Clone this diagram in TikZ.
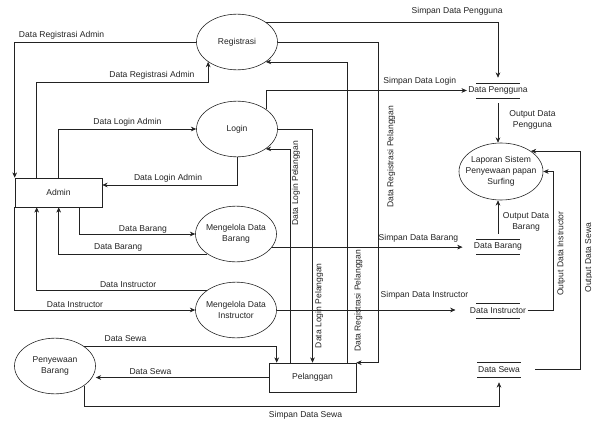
\documentclass[tikz,border=0pt]{standalone}
\usepackage{fontspec}
\setmainfont{Liberation Sans}
\usetikzlibrary{arrows.meta,shapes.geometric}
\definecolor{ink}{HTML}{222222}

\begin{document}
\begin{tikzpicture}[x=0.03cm,y=-0.03cm,ink,line width=0.5pt,
  font=\fontsize{7.3}{9.2}\selectfont,
  proc/.style={ellipse,draw=ink,minimum width=2.43cm,minimum height=1.67cm,inner xsep=-0.3cm,align=center},
  ent/.style={rectangle,draw=ink,minimum width=2.61cm,minimum height=0.87cm},
  store/.style={minimum height=0.75cm,inner xsep=1pt},
  lbl/.style={inner sep=2pt},
  vlbl/.style={rotate=90,anchor=north,inner sep=2pt},
  arr/.style={-{Stealth[length=1.6mm,width=1.4mm]},draw=ink}]
\useasboundingbox (0,0) rectangle (592,423);
\node[proc] (reg) at (237,42) {Registrasi};
\node[proc] (login) at (237,129) {Login};
\node[proc] (mdb) at (236,234) {Mengelola Data\\Barang};
\node[proc] (mdi) at (236,310) {Mengelola Data\\Instructor};
\node[proc] (sewa) at (55,366) {Penyewaan\\Barang};
\node[proc,minimum width=2.52cm,minimum height=1.71cm] (lap) at (501,171.5) {Laporan Sistem\\Penyewaan papan\\Surfing};
\node[ent] (admin) at (58.5,192.5) {Admin};
\node[ent] (plg) at (312.5,377.5) {Pelanggan};
\node[store] (dp) at (498,90.5) {Data Pengguna};
\node[store] (db) at (498,246.5) {Data Barang};
\node[store] (di) at (498,310.5) {Data Instructor};
\node[store] (ds) at (499,369.5) {Data Sewa};
\foreach \s in {dp,db,di,ds}
  \draw ([shift={(-0.66cm,0.225cm)}]\s.center) -- ++(1.32cm,0)
        ([shift={(-0.66cm,-0.225cm)}]\s.center) -- ++(1.32cm,0);
\draw[arr] (reg.west) -| node[lbl,above,pos=0.371]{Data Registrasi Admin} (admin.north west);
\draw[arr] ([xshift=0.66cm]admin.north west) |- node[lbl,above,pos=0.836]{Data Registrasi Admin} ([yshift=-0.6cm]reg.south west) -- (reg.south west);
\draw[arr] ([xshift=1.32cm]admin.north west) |- node[lbl,above,pos=0.75]{Data Login Admin} (login.west);
\draw[arr] (login.south) |- node[lbl,above,pos=0.756]{Data Login Admin} ([yshift=0.225cm]admin.east);
\draw[arr] ([xshift=1.95cm]admin.south west) |- node[lbl,above=-1.5pt,pos=0.774]{Data Barang} (mdb.west);
\draw[arr] (mdb.south west) -| node[lbl,above,pos=0.30]{Data Barang} ([xshift=1.32cm]admin.south west);
\draw[arr] (mdi.north west) -| node[lbl,above,pos=0.232]{Data Instructor} ([xshift=0.66cm]admin.south west);
\draw[arr] (admin.south west) |- node[lbl,above,pos=0.667]{Data Instructor} (mdi.west);
\draw[arr] (sewa.north east) -| node[lbl,above=2pt,pos=0.108]{Data Sewa} ([xshift=0.24cm]plg.north west);
\draw[arr] (plg.west) -- node[lbl,above,pos=0.684]{Data Sewa} (plg.west -| sewa.east);
\draw[arr] (sewa.south east) |- node[lbl,below=2pt,pos=0.767]{Simpan Data Sewa} ([yshift=-0.72cm]ds.south) -- (ds.south);
\draw[arr] (reg.north east) -| node[lbl,above=3.7pt,pos=0.412]{Simpan Data Pengguna} (dp.north);
\draw[arr] (reg.east) -| node[vlbl,pos=0.679,inner ysep=7.4pt]{Data Registrasi Pelanggan} ([xshift=0.66cm]plg.north east) -- (plg.north east);
\draw[arr] ([xshift=-0.27cm]plg.north east) |- node[vlbl,pos=0.103,inner ysep=5.8pt]{Data Registrasi Pelanggan} (reg.south east);
\draw[arr] ([xshift=0.66cm]plg.north west) |- node[vlbl,pos=0.42,inner ysep=0.7pt]{Data Login Pelanggan} (login.south east);
\draw[arr] (login.east) -| node[vlbl,pos=0.878]{Data Login Pelanggan} (plg.north);
\draw[arr] (login.north east) |- node[lbl,above=2pt,pos=0.883]{Simpan Data Login} (dp.west);
\draw[arr,shorten >=0.3cm] (mdb.-20) -- node[lbl,above=2pt,pos=0.73]{Simpan Data Barang} (mdb.-20 -| db.west);
\draw[arr,shorten >=0.39cm] (mdi.east) -- node[lbl,above=7pt,pos=0.77]{Simpan Data Instructor} (mdi.east -| di.west);
\draw[arr] (dp.south) -- node[lbl,right=7.5pt,pos=0.43,align=center]{Output Data\\Pengguna} (dp.south |- lap.north);
\draw[arr] (db.north) -- node[lbl,right=2pt,pos=0.35,align=center]{Output Data\\Barang} (db.north |- lap.south);
\draw[arr] (di.east) -| node[vlbl,pos=0.704,inner ysep=3.2pt]{Output Data Instructor} ([xshift=0.3cm]lap.east) -- (lap.east);
\draw[arr,shorten <=0.42cm] (ds.east) -| node[vlbl,pos=0.756,inner ysep=4pt]{Output Data Sewa} ([xshift=1.48cm]lap.north east) -- (lap.north east);
\end{tikzpicture}
\end{document}
